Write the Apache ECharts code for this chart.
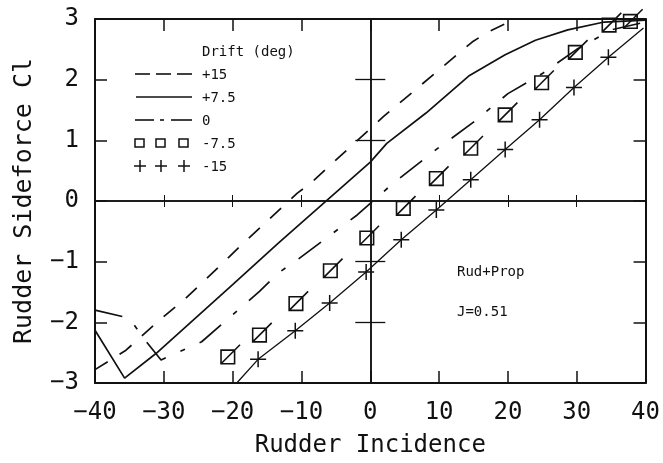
<!DOCTYPE html>
<html>
<head>
<meta charset="utf-8">
<script src="https://cdn.jsdelivr.net/npm/echarts@6/dist/echarts.min.js"></script>
<style>
  html, body { margin: 0; padding: 0; background: #fff; }
</style>
</head>
<body>
<div id="main" style="width:663px;height:463px;"></div>
<script>
// axis ranges / ticks
var xTicks = [-40, -30, -20, -10, 0, 10, 20, 30, 40];
var yTicks = [-3, -2, -1, 0, 1, 2, 3];

// [rudder incidence, Cl], one list per drift angle
var drift15 = [[-40, -2.78], [-35.5, -2.46], [-31.2, -2.02], [-26.8, -1.6], [-22.5, -1.14],
  [-18.5, -0.7], [-10.6, 0.13], [-8.7, 0.29], [1.9, 1.39], [6.2, 1.8], [10.5, 2.21],
  [14.8, 2.62], [17, 2.78], [20.5, 2.97]];
var drift7 = [[-40, -2.13], [-35.7, -2.92], [-31.1, -2.51], [-20, -1.38], [-13.4, -0.7],
  [-10.6, -0.42], [0, 0.64], [2.4, 0.95], [8.1, 1.45], [14.3, 2.06], [19.6, 2.41],
  [24, 2.65], [28.7, 2.82], [34, 2.95], [40, 2.98]];
var drift0 = [[-40, -1.8], [-35, -1.93], [-33.1, -2.24], [-30.4, -2.62], [-24.5, -2.32],
  [-16.1, -1.49], [-13.4, -1.19], [-10.6, -0.97], [-1.9, -0.23], [3.3, 0.29], [9.6, 0.85],
  [15, 1.3], [20, 1.77], [25, 2.1], [30, 2.5], [35, 2.82], [40, 2.95]];
var driftM7 = [[-20.7, -2.57], [-16.1, -2.21], [-10.8, -1.69], [-5.8, -1.15], [-0.5, -0.61],
  [4.8, -0.12], [9.6, 0.37], [14.6, 0.87], [19.6, 1.42], [24.9, 1.95], [29.8, 2.45],
  [34.7, 2.9], [37.8, 2.96]];
// first and last points are the ends of the thin line, the rest carry a cross
var driftM15 = [[-19.4, -3.0], [-16.3, -2.61], [-10.9, -2.14], [-5.9, -1.68], [-0.6, -1.17],
  [4.5, -0.64], [9.6, -0.15], [14.6, 0.35], [19.6, 0.85], [24.6, 1.34], [29.6, 1.87],
  [34.6, 2.37], [39.7, 2.85]];

var legendNames = ['+15', '+7.5', '0', '-7.5', '-15'];

var ink = '#111';
var mono = 'DejaVu Sans Mono';
var sqSymbol = 'path://M3,7 L13,7 L13,17 L3,17 Z M3,17 L17,3';
var crossSymbol = 'path://M0,8 L16,8 M8,0 L8,16';

function minus(v) { return String(v).replace('-', '\u2212'); }

function borderX(pos, showLabel) {
  return {
    type: 'value', position: pos, min: xTicks[0], max: xTicks[xTicks.length - 1], interval: 10,
    axisLine: { onZero: false, lineStyle: { color: ink, width: 2 } },
    axisTick: { inside: true, length: 12, lineStyle: { color: ink, width: 1.5 } },
    axisLabel: { show: showLabel, fontFamily: mono, fontSize: 24, color: ink, margin: 18, formatter: minus },
    splitLine: { show: false }
  };
}
function borderY(pos, showLabel) {
  return {
    type: 'value', position: pos, min: yTicks[0], max: yTicks[yTicks.length - 1], interval: 1,
    axisLine: { onZero: false, lineStyle: { color: ink, width: 2 } },
    axisTick: { inside: true, length: 12, lineStyle: { color: ink, width: 1.5 } },
    axisLabel: { show: showLabel, fontFamily: mono, fontSize: 24, color: ink, margin: 16, formatter: minus },
    splitLine: { show: false }
  };
}
// the two axes through the origin, ticks crossing the line
function zeroX(inside) {
  return {
    type: 'value', position: 'bottom', min: xTicks[0], max: xTicks[xTicks.length - 1], interval: 10,
    axisLine: { onZero: true, onZeroAxisIndex: 0, lineStyle: { color: ink, width: 1.5 } },
    axisTick: { inside: inside, length: 6, customValues: xTicks.slice(1, -1).filter(function (v) { return v !== 0; }),
      lineStyle: { color: ink, width: 1 } },
    axisLabel: { show: false }, splitLine: { show: false }
  };
}
function zeroY(inside) {
  return {
    type: 'value', position: 'left', min: yTicks[0], max: yTicks[yTicks.length - 1], interval: 1,
    axisLine: { onZero: true, onZeroAxisIndex: 0, lineStyle: { color: ink, width: 1.5 } },
    axisTick: { inside: inside, length: 15, customValues: yTicks.slice(1, -1).filter(function (v) { return v !== 0; }),
      lineStyle: { color: ink, width: 1.3 } },
    axisLabel: { show: false }, splitLine: { show: false }
  };
}

var xb = borderX('bottom', true);
xb.name = 'Rudder Incidence';
xb.nameLocation = 'middle';
xb.nameGap = 51;
xb.nameTextStyle = { fontFamily: mono, fontSize: 24, color: ink };
var yl = borderY('left', true);
yl.name = 'Rudder Sideforce Cl';
yl.nameLocation = 'middle';
yl.nameGap = 58;
yl.nameTextStyle = { fontFamily: mono, fontSize: 25, color: ink };

var lineBase = { type: 'line', xAxisIndex: 0, yAxisIndex: 0, showSymbol: false, animation: false, silent: true };

var series = [
  Object.assign({}, lineBase, { name: legendNames[0], data: drift15,
    lineStyle: { color: ink, width: 1.7, type: [15, 14] } }),
  Object.assign({}, lineBase, { name: legendNames[1], data: drift7,
    lineStyle: { color: ink, width: 1.7 } }),
  Object.assign({}, lineBase, { name: legendNames[2], data: drift0,
    lineStyle: { color: ink, width: 1.7, type: [28, 16, 5, 16] } }),
  Object.assign({}, lineBase, { name: legendNames[3], data: driftM7, showSymbol: true,
    symbol: sqSymbol, symbolSize: 19, symbolOffset: [2.7, -2.7],
    itemStyle: { color: 'none', borderColor: ink, borderWidth: 1.6 },
    lineStyle: { width: 0, opacity: 0 } }),
  Object.assign({}, lineBase, { name: legendNames[4], showSymbol: true,
    data: driftM15.map(function (p, i) {
      var end = i === 0 || i === driftM15.length - 1;
      return end ? { value: p, symbol: 'none' } : { value: p };
    }),
    symbol: crossSymbol, symbolSize: 16,
    itemStyle: { color: 'none', borderColor: ink, borderWidth: 1.5 },
    lineStyle: { color: ink, width: 1.3 } })
];

// hand-drawn legend like the plotter original
var lx = 135, ly = [74, 97, 120, 143, 166];
function seg(x1, y1, x2, y2, w) {
  return { type: 'line', shape: { x1: x1, y1: y1, x2: x2, y2: y2 }, style: { stroke: ink, lineWidth: w || 1.6 } };
}
function txt(x, y, s) {
  return { type: 'text', x: x, y: y, style: { text: s, fill: ink, font: '14px ' + mono, verticalAlign: 'middle' } };
}
var graphic = [
  txt(202, 52, 'Drift (deg)'),
  seg(lx, ly[0], lx + 15, ly[0]), seg(lx + 21, ly[0], lx + 36, ly[0]), seg(lx + 42, ly[0], lx + 57, ly[0]),
  seg(lx + 1, ly[1], lx + 57, ly[1]),
  seg(lx, ly[2], lx + 19, ly[2]), seg(lx + 25, ly[2], lx + 29, ly[2]), seg(lx + 36, ly[2], lx + 57, ly[2])
];
[0, 21, 44].forEach(function (dx) {
  graphic.push({ type: 'rect', shape: { x: lx + dx, y: ly[3] - 4, width: 9, height: 8 },
    style: { fill: 'none', stroke: ink, lineWidth: 1.5 } });
  graphic.push(seg(lx + dx - 1, ly[4], lx + dx + 11, ly[4], 1.5));
  graphic.push(seg(lx + dx + 5, ly[4] - 6, lx + dx + 5, ly[4] + 6, 1.5));
});
legendNames.forEach(function (n, i) { graphic.push(txt(202, ly[i] + 1, n)); });
graphic.push(txt(457, 272, 'Rud+Prop'));
graphic.push(txt(457, 312, 'J=0.51'));

var chart = echarts.init(document.getElementById('main'));
chart.setOption({
  animation: false,
  backgroundColor: '#fff',
  grid: { left: 95, right: 12, top: 19, bottom: 80 },
  xAxis: [xb, borderX('top', false), zeroX(true), zeroX(false)],
  yAxis: [yl, borderY('right', false), zeroY(true), zeroY(false)],
  series: series,
  graphic: graphic
});
</script>
</body>
</html>
